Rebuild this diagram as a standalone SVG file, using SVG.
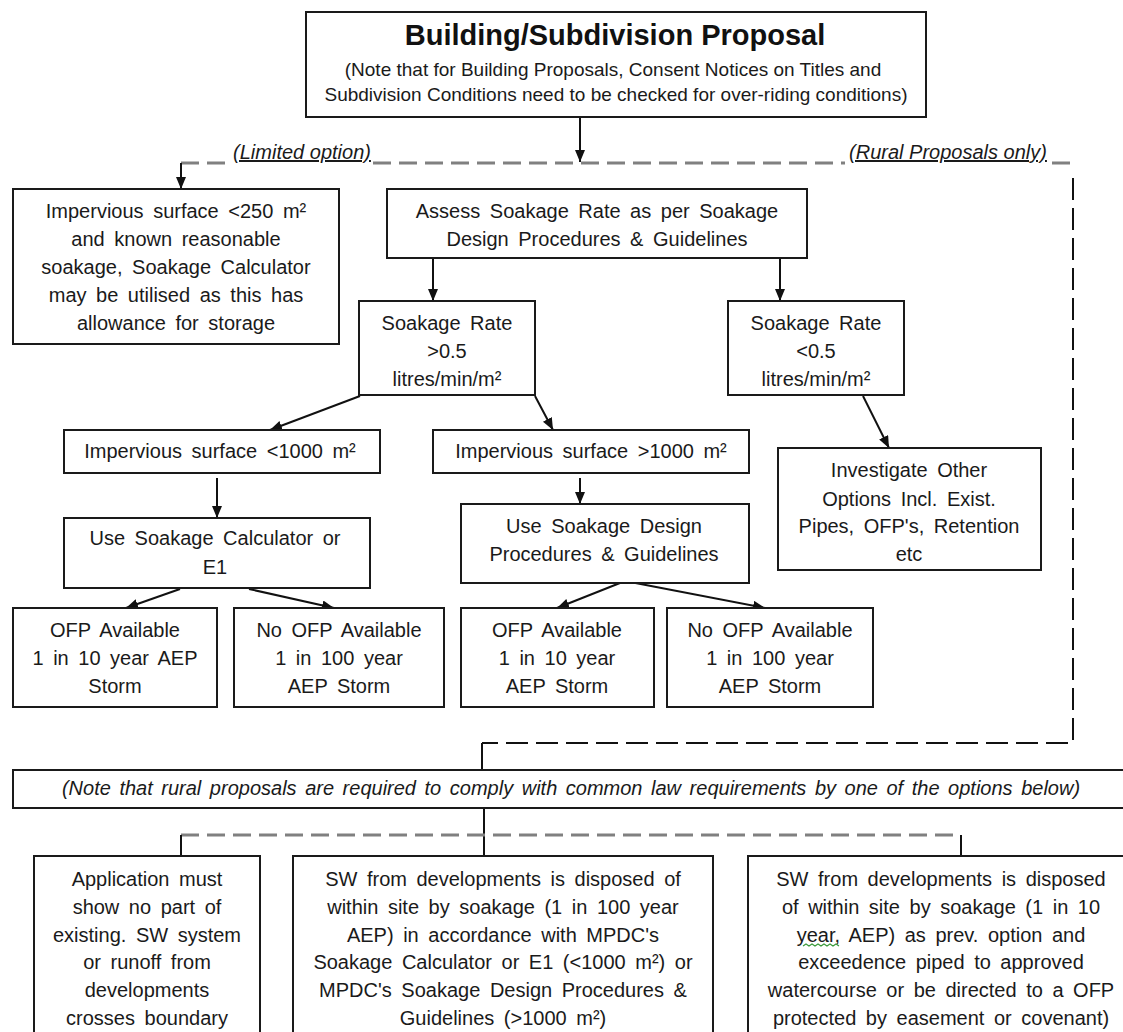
<svg xmlns="http://www.w3.org/2000/svg" width="1123" height="1032" viewBox="0 0 1123 1032">
<defs>
<marker id="ah" markerUnits="userSpaceOnUse" markerWidth="12" markerHeight="12" refX="12" refY="5" orient="auto">
<path d="M0,0 L12,5 L0,10 z" fill="#111"/>
</marker>
<style>
.box{fill:#fff;stroke:#1a1a1a;stroke-width:2}
.t{font-family:"Liberation Sans",Arial,sans-serif;font-size:20px;fill:#1a1a1a;text-anchor:middle;word-spacing:4px}
.it{font-style:italic}
.ttl{font-family:"Liberation Sans",Arial,sans-serif;font-size:29px;font-weight:bold;fill:#111;text-anchor:middle}
.sm{font-family:"Liberation Sans",Arial,sans-serif;font-size:19px;fill:#1a1a1a;text-anchor:middle}
.arr{stroke:#111;stroke-width:2;fill:none;marker-end:url(#ah)}
.sol{stroke:#111;stroke-width:2;fill:none}
.gd{stroke:#808080;stroke-width:3;fill:none;stroke-dasharray:18 8}
.bd{stroke:#111;stroke-width:2;fill:none;stroke-dasharray:22 8}
</style>
</defs>
<rect width="1123" height="1032" fill="#fff"/>

<g id="connectors">
<path class="arr" d="M580,117 L580,162"/>
<path class="gd" d="M181,163 L232,163 M373,163 L845,163 M1052,163 L1073,163"/>
<path class="arr" d="M181,163 L181,189"/>
<path class="arr" d="M433,258 L433,301"/>
<path class="arr" d="M780,258 L780,301"/>
<path class="arr" d="M360,396 L270,430"/>
<path class="arr" d="M535,396 L553,430"/>
<path class="arr" d="M863,396 L889,448"/>
<path class="arr" d="M217,478 L217,518"/>
<path class="arr" d="M580,478 L580,504"/>
<path class="arr" d="M180,589 L126,608"/>
<path class="arr" d="M249,589 L334,608"/>
<path class="arr" d="M625,581 L557,608"/>
<path class="arr" d="M625,581 L765,608"/>
<path class="bd" d="M1073,178 L1073,743 L482,743"/>
<path class="sol" d="M482,743 L482,770"/>
<path class="sol" d="M484,808 L484,856"/>
<path class="gd" d="M181,835 L961,835"/>
<path class="sol" d="M181,835 L181,856 M961,835 L961,856"/>
</g>

<g id="labels">
<text class="t it" x="302" y="159" text-decoration="underline" style="word-spacing:0">(Limited option)</text>
<text class="t it" x="948" y="159" text-decoration="underline" style="word-spacing:0">(Rural Proposals only)</text>
</g>

<g id="n-proposal">
<rect class="box" x="306" y="12" width="620" height="105"/>
<text class="ttl" x="615" y="45">Building/Subdivision Proposal</text>
<text class="sm" x="613" y="76">(Note that for Building Proposals, Consent Notices on Titles and</text>
<text class="sm" x="616" y="101">Subdivision Conditions need to be checked for over-riding conditions)</text>
</g>

<g id="n-limited">
<rect class="box" x="13" y="189" width="326" height="155"/>
<text class="t" x="176" y="218">Impervious surface &lt;250 m²</text>
<text class="t" x="176" y="246">and known reasonable</text>
<text class="t" x="176" y="274">soakage, Soakage Calculator</text>
<text class="t" x="176" y="302">may be utilised as this has</text>
<text class="t" x="176" y="330">allowance for storage</text>
</g>

<g id="n-assess">
<rect class="box" x="387" y="189" width="420" height="69"/>
<text class="t" x="597" y="218">Assess Soakage Rate as per Soakage</text>
<text class="t" x="597" y="246">Design Procedures &amp; Guidelines</text>
</g>

<g id="n-rate-high">
<rect class="box" x="359" y="301" width="176" height="94"/>
<text class="t" x="447" y="330">Soakage Rate</text>
<text class="t" x="447" y="358">&gt;0.5</text>
<text class="t" x="447" y="386">litres/min/m²</text>
</g>

<g id="n-rate-low">
<rect class="box" x="728" y="301" width="176" height="94"/>
<text class="t" x="816" y="330">Soakage Rate</text>
<text class="t" x="816" y="358">&lt;0.5</text>
<text class="t" x="816" y="386">litres/min/m²</text>
</g>

<g id="n-imp-small">
<rect class="box" x="64" y="430" width="316" height="43"/>
<text class="t" x="220" y="458">Impervious surface &lt;1000 m²</text>
</g>

<g id="n-imp-large">
<rect class="box" x="433" y="430" width="316" height="43"/>
<text class="t" x="591" y="458">Impervious surface &gt;1000 m²</text>
</g>

<g id="n-investigate">
<rect class="box" x="778" y="448" width="263" height="122"/>
<text class="t" x="909" y="477">Investigate Other</text>
<text class="t" x="909" y="506">Options Incl. Exist.</text>
<text class="t" x="909" y="533">Pipes, OFP's, Retention</text>
<text class="t" x="909" y="561">etc</text>
</g>

<g id="n-calc">
<rect class="box" x="64" y="518" width="306" height="70"/>
<text class="t" x="215" y="545">Use Soakage Calculator or</text>
<text class="t" x="215" y="574">E1</text>
</g>

<g id="n-design">
<rect class="box" x="461" y="504" width="288" height="79"/>
<text class="t" x="604" y="533">Use Soakage Design</text>
<text class="t" x="604" y="561">Procedures &amp; Guidelines</text>
</g>

<g id="n-ofp1">
<rect class="box" x="13" y="608" width="204" height="99"/>
<text class="t" x="115" y="637">OFP Available</text>
<text class="t" x="115" y="665">1 in 10 year AEP</text>
<text class="t" x="115" y="693">Storm</text>
</g>

<g id="n-ofp2">
<rect class="box" x="234" y="608" width="210" height="99"/>
<text class="t" x="339" y="637">No OFP Available</text>
<text class="t" x="339" y="665">1 in 100 year</text>
<text class="t" x="339" y="693">AEP Storm</text>
</g>

<g id="n-ofp3">
<rect class="box" x="461" y="608" width="193" height="99"/>
<text class="t" x="557" y="637">OFP Available</text>
<text class="t" x="557" y="665">1 in 10 year</text>
<text class="t" x="557" y="693">AEP Storm</text>
</g>

<g id="n-ofp4">
<rect class="box" x="667" y="608" width="206" height="99"/>
<text class="t" x="770" y="637">No OFP Available</text>
<text class="t" x="770" y="665">1 in 100 year</text>
<text class="t" x="770" y="693">AEP Storm</text>
</g>

<g id="n-note">
<rect class="box" x="13" y="770" width="1115" height="38"/>
<text class="t it" x="571" y="795" style="word-spacing:3px">(Note that rural proposals are required to comply with common law requirements by one of the options below)</text>
</g>

<g id="n-opt1">
<rect class="box" x="34" y="856" width="226" height="200"/>
<text class="t" x="147" y="886">Application must</text>
<text class="t" x="147" y="914">show no part of</text>
<text class="t" x="147" y="942">existing. SW system</text>
<text class="t" x="147" y="969">or runoff from</text>
<text class="t" x="147" y="997">developments</text>
<text class="t" x="147" y="1025">crosses boundary</text>
</g>

<g id="n-opt2">
<rect class="box" x="293" y="856" width="420" height="200"/>
<text class="t" x="503" y="886">SW from developments is disposed of</text>
<text class="t" x="503" y="914">within site by soakage (1 in 100 year</text>
<text class="t" x="503" y="942">AEP) in accordance with MPDC's</text>
<text class="t" x="503" y="969">Soakage Calculator or E1 (&lt;1000 m²) or</text>
<text class="t" x="503" y="997">MPDC's Soakage Design Procedures &amp;</text>
<text class="t" x="503" y="1025">Guidelines (&gt;1000 m²)</text>
</g>

<g id="n-opt3">
<rect class="box" x="748" y="856" width="390" height="200"/>
<text class="t" x="941" y="886">SW from developments is disposed</text>
<text class="t" x="941" y="914">of within site by soakage (1 in 10</text>
<text class="t" x="941" y="942">year, AEP) as prev. option and</text>
<text class="t" x="941" y="969">exceedence piped to approved</text>
<text class="t" x="941" y="997">watercourse or be directed to a OFP</text>
<text class="t" x="941" y="1025">protected by easement or covenant)</text>
<path d="M803,946 l3,-2 l3,2 l3,-2 l3,2 l3,-2 l3,2 l3,-2 l3,2 l3,-2 l3,2 l3,-2 l3,2" stroke="#3a9a3a" stroke-width="1.2" fill="none"/>
</g>
</svg>
